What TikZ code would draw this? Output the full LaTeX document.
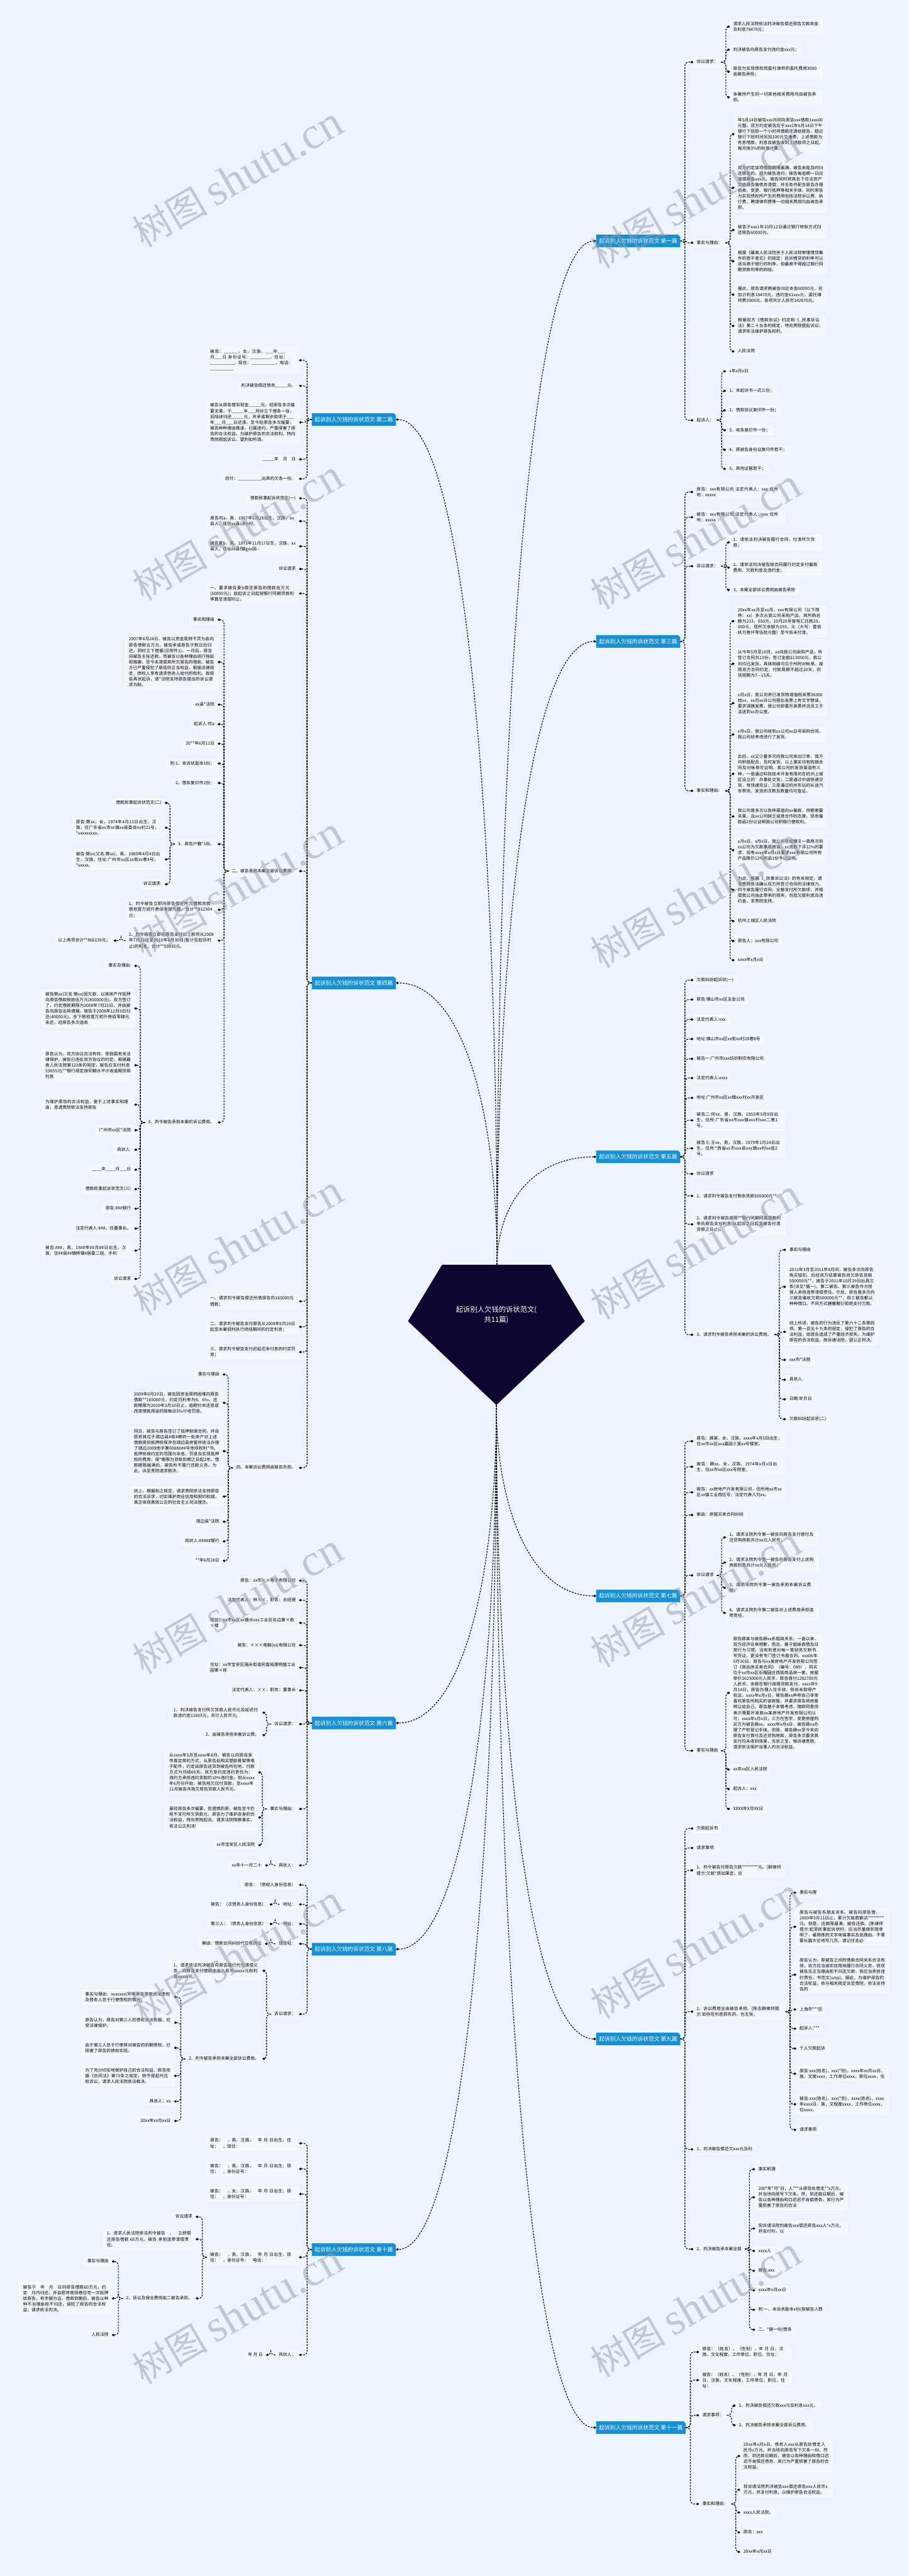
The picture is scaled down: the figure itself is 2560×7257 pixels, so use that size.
\documentclass[tikz,border=0pt]{standalone}
\usepackage{fontspec}
\setmainfont{Noto Sans CJK SC}
\newfontfamily\wmlat{Liberation Serif}
\XeTeXlinebreaklocale "zh"
\XeTeXlinebreakskip=0pt plus 0.3pt
\usetikzlibrary{arrows.meta}
\pgfdeclarelayer{bg}
\pgfsetlayers{bg,main}
\definecolor{bgc}{RGB}{237,244,254}
\definecolor{boxc}{RGB}{242,247,255}
\definecolor{lblc}{RGB}{24,144,213}
\definecolor{navyc}{RGB}{11,5,48}
\definecolor{wmc}{RGB}{150,156,170}
\newcommand{\fs}{\fontsize{3.41pt}{4.57pt}\selectfont}
\newcommand{\fl}{\fontsize{4.4pt}{5.2pt}\selectfont}
\newcommand{\fc}{\fontsize{5.7pt}{8pt}\selectfont}
\newcommand{\toR}[2]{\foreach \c in {#2}{\draw[conn] (#1.east) -- ++(13,0) |- (\c.west);}}
\newcommand{\toL}[2]{\foreach \c in {#2}{\draw[conn] (#1.west) -- ++(-13,0) |- (\c.east);}}
\tikzset{
  conn/.style={line width=0.55pt, dash pattern=on 1.4pt off 0.9pt, rounded corners=3pt, -{Diamond[length=2.4pt,width=2.0pt]}},
  chamf/.style={append after command={\pgfextra{\begin{pgfonlayer}{bg}
      \filldraw[#1] (\tikzlastnode.south west) -- (\tikzlastnode.north west) -- ([xshift=-1.7pt]\tikzlastnode.north east) -- ([yshift=-1.7pt]\tikzlastnode.north east) -- (\tikzlastnode.south east) -- cycle;
      \end{pgfonlayer}}}},
  bx/.style={chamf={fill=boxc,draw=white,line width=0.35pt}, font=\fs, inner xsep=2.4pt, inner ysep=1.3pt},
  ts/.style={bx, text height=2.75pt, text depth=0.75pt},
  tb/.style={bx, text width=68.5pt, align=left},
  lbl/.style={chamf={fill=lblc,draw=none}, text=white, font=\fl, inner xsep=2.2pt, inner ysep=0pt, minimum height=0.34cm},
  aw/.style={anchor=west},
  ae/.style={anchor=east},
  wm/.style={rotate=30, text=wmc, opacity=0.5, inner sep=0pt}
}
\begin{document}
\begin{tikzpicture}[x=0.01cm,y=-0.01cm]
\useasboundingbox (0,0) rectangle (2560,7257);
\begin{pgfonlayer}{bg}
\fill[bgc] (0,0) rectangle (2560,7257);
\end{pgfonlayer}

% ---------- centre ----------
\fill[navyc] (1245,3563) -- (1551,3563) -- (1647,3722) -- (1398,3958) -- (1149,3722) -- cycle;
\node[text=white,font=\fc,align=center] (CEN) at (1398,3704) {起诉别人欠钱的诉状范文(\\共11篇)};
\coordinate (ctop) at (1400,3563);
\coordinate (cbot) at (1398,3958);

% ---------- branch labels ----------
\node[lbl,aw] (R1) at (1679,679) {起诉别人欠钱的诉状范文 第一篇};
\node[lbl,aw] (R3) at (1679,1807) {起诉别人欠钱的诉状范文 第三篇};
\node[lbl,aw] (R5) at (1679,3259) {起诉别人欠钱的诉状范文 第五篇};
\node[lbl,aw] (R7) at (1679,4496) {起诉别人欠钱的诉状范文 第七篇};
\node[lbl,aw] (R9) at (1679,5744) {起诉别人欠钱的诉状范文 第九篇};
\node[lbl,aw] (R11) at (1679,6839) {起诉别人欠钱的诉状范文 第十一篇};
\node[lbl,ae] (L2) at (1115,1182) {起诉别人欠钱的诉状范文 第二篇};
\node[lbl,ae] (L4) at (1115,2769) {起诉别人欠钱的诉状范文 第四篇};
\node[lbl,ae] (L6) at (1115,4854) {起诉别人欠钱的诉状范文 第六篇};
\node[lbl,ae] (L8) at (1115,5491) {起诉别人欠钱的诉状范文 第八篇};
\node[lbl,ae] (L10) at (1115,6337) {起诉别人欠钱的诉状范文 第十篇};

\draw[conn] (ctop) .. controls (1400,1977) and (1498,679) .. (R1.west);
\draw[conn] (ctop) .. controls (1400,2597) and (1498,1807) .. (R3.west);
\draw[conn] (ctop) .. controls (1400,3396) and (1498,3259) .. (R5.west);
\draw[conn] (cbot) .. controls (1398,4254) and (1498,4496) .. (R7.west);
\draw[conn] (cbot) .. controls (1398,4940) and (1498,5744) .. (R9.west);
\draw[conn] (cbot) .. controls (1398,5527) and (1498,6839) .. (R11.west);
\draw[conn] (ctop) .. controls (1400,2253) and (1300,1182) .. (L2.east);
\draw[conn] (ctop) .. controls (1400,3125) and (1300,2769) .. (L4.east);
\draw[conn] (cbot) .. controls (1398,4451) and (1300,4854) .. (L6.east);
\draw[conn] (cbot) .. controls (1398,4801) and (1300,5491) .. (L8.east);
\draw[conn] (cbot) .. controls (1398,5266) and (1300,6337) .. (L10.east);

% ========== 第一篇 ==========
\node[ts,aw] (r1a) at (1953,175) {诉讼请求：};
\node[tb,aw] (r1a1) at (2056,75) {请求人民法院依法判决被告偿还原告欠款本金及利息78470元；};
\node[ts,aw] (r1a2) at (2056,140) {判决被告向原告支付违约金xxx元；};
\node[tb,aw] (r1a3) at (2056,202) {原告为实现债权而委托律师的委托费用3000由被告承担；};
\node[tb,aw] (r1a4) at (2056,274) {本案所产生的一切其他相关费用均由被告承担。};
\node[ts,aw] (r1b) at (1953,684) {事实与理由：};
\node[tb,aw] (r1b1) at (2069,378) {年5月14日被告xxx共同向原告xxx借款1xxx00元整。双方约定被告应于xxx1年6月14日下午银行下班前一个小时将借款还清给原告，超过银行下班时间另加100元交通费；上述借款为有息借款，利息自被告收到上述款项之日起，每月按3\%的标准计算。};
\node[tb,aw] (r1b2) at (2069,529) {双方约定该项借款期限届满，被告未能及时归还原告的，视为被告违约，被告每逾期一日应赔偿原告xxx元。被告同时将其名下合法资产交给原告做债务清偿，并无条件配合原告办理拍卖、变更、银行抵押等相关手续。同时原告为实现债权所产生的费用包括法院诉讼费、执行费、聘请律师费等一切相关费用均由被告承担。};
\node[tb,aw] (r1b3) at (2069,648) {被告于xxx1年10月12日通过银行转账方式归还原告60000元。};
\node[tb,aw] (r1b4) at (2069,736) {根据《最高人民法院关于人民法院审理借贷案件的若干意见》的规定：民间借贷的利率可以适当高于银行的利率，但最高不得超过银行同期贷款利率的四倍。};
\node[tb,aw] (r1b5) at (2069,830) {据此，原告请求两被告归还本金60000元，另加计利息18470元，违约金61xxx元，委托律师费3000元。各项共计人民币142670元。};
\node[tb,aw] (r1b6) at (2069,918) {根据双方《借款协议》约定和《\_民事诉讼法》第二十五条的规定，特向贵院提起诉讼，请求依法维护原告权利。};
\node[ts,aw] (r1b7) at (2069,990) {人民法院};
\node[ts,aw] (r1c) at (1953,1184) {起诉人：};
\node[ts,aw] (r1c1) at (2045,1046) {x年x月x日};
\node[ts,aw] (r1c2) at (2045,1101) {1、本起诉书一式三份；};
\node[ts,aw] (r1c3) at (2045,1156) {2、借款协议复印件一份；};
\node[ts,aw] (r1c4) at (2045,1212) {3、收条复印件一份；};
\node[ts,aw] (r1c5) at (2045,1267) {4、原被告身份证复印件若干；};
\node[ts,aw] (r1c6) at (2045,1321) {5、其他证据若干；};
\toR{R1}{r1a,r1b,r1c}
\toR{r1a}{r1a1,r1a2,r1a3,r1a4}
\toR{r1b}{r1b1,r1b2,r1b3,r1b4,r1b5,r1b6,r1b7}
\toR{r1c}{r1c1,r1c2,r1c3,r1c4,r1c5,r1c6}

% ========== 第三篇 ==========
\node[tb,aw] (r3a) at (1953,1386) {原告：xxx有限公司 法定代表人：xxx 住所地：xxxxx};
\node[tb,aw] (r3b) at (1953,1457) {被告：xxx有限公司 法定代表人：xxx 住所地：xxxxx};
\node[ts,aw] (r3c) at (1953,1595) {诉讼请求：};
\node[tb,aw] (r3c1) at (2056,1528) {1、请依法判决被告履行合同，付清所欠货款；};
\node[tb,aw] (r3c2) at (2056,1599) {2、请依法判决被告按合同履行约定支付催款费用、欠款利息及违约金；};
\node[ts,aw] (r3c3) at (2056,1662) {3、本案全部诉讼费用由被告承担};
\node[ts,aw] (r3d) at (1953,2228) {事实和理由：};
\node[tb,aw] (r3d1) at (2069,1750) {20xx年xx月至xx月，xxx有限公司（以下简称：xx）多次从我公司采购产品，其所购总额为213，050元，10月20号曾电汇还款20，000元，现所欠余额为193，元（大写：壹拾玖万叁仟零伍拾元整）至今尚未付清。};
\node[tb,aw] (r3d2) at (2069,1870) {从今年5月至10月，xx向我公司采购产品，所签订合同共13份，签订金额213050元，我公司均已发货，具体明细可见于所附对帐单。按照双方合同约定，付款周期不超过20天，供货周期为7—15天。};
\node[tb,aw] (r3d3) at (2069,1981) {x月x日，我公司将已发货物增值税发票38300给xx，xx月xx日公司提出发票上有文字错误，要求调换发票，我公司即重开发票并派员工于洁送到xx办公室。};
\node[tb,aw] (r3d4) at (2069,2069) {x月x日，我公司收到xx公司xx日号采购合同，我公司经考虑进行了发货。};
\node[tb,aw] (r3d5) at (2069,2180) {此后，xx又少量多次向我公司发出订单，我方均积极配合，及时发货。以上事实均有购销合同及对帐单可证明。我公司的发货渠道有三种，一是通过科技技术开发有限司在杭州上城区设立的'办事处交货；二是通过中诚快递交货，有快递凭证；三是通过杭州东站的长途汽车带货。发货的次数及数量均可查证。};
\node[tb,aw] (r3d6) at (2069,2300) {我公司曾多次以各种渠道向xx催款，但都索要未果，且xx公司缺乏诚意合作的态度。现有催款函2份以证明我公司积极行使权利。};
\node[tb,aw] (r3d7) at (2069,2395) {x月x日，x月x日，我公司总经理王一真两次到xx公司为欠款事项商谈，xx货款下浮12\%的要求，现有xxxx年x月x日要求xxx有限公司所有产品降价12\%的函1份予以证明。};
\node[tb,aw] (r3d8) at (2069,2507) {为此，根据《\_民事诉讼法》的有关规定，请求贵院依法确认双方所签订合同的法律效力，判令被告履行合同，全额支付所欠款项，并赔偿我公司由此带来的损失，包括欠款利息及违约金。求贵院支持。};
\node[ts,aw] (r3d9) at (2069,2595) {杭州上城区人民法院};
\node[ts,aw] (r3d10) at (2069,2651) {原告人：xxx有限公司};
\node[ts,aw] (r3d11) at (2069,2705) {xxxx年x月x日};
\toR{R3}{r3a,r3b,r3c,r3d}
\toR{r3c}{r3c1,r3c2,r3c3}
\toR{r3d}{r3d1,r3d2,r3d3,r3d4,r3d5,r3d6,r3d7,r3d8,r3d9,r3d10,r3d11}

% ========== 第五篇 ==========
\node[ts,aw] (r5a) at (1953,2761) {欠款纠纷起诉状(一)};
\node[ts,aw] (r5b) at (1953,2816) {原告:佛山市xx区五金公司};
\node[ts,aw] (r5c) at (1953,2872) {法定代表人:xxx};
\node[ts,aw] (r5d) at (1953,2927) {地址:佛山市xx区xx街xx村28巷8号};
\node[ts,aw] (r5e) at (1953,2983) {被告一:广州市xxx纺织制衣有限公司};
\node[ts,aw] (r5f) at (1953,3037) {法定代表人:xxxx};
\node[ts,aw] (r5g) at (1953,3093) {地址:广州市xx区xx镇xxx村xx开发区};
\node[tb,aw] (r5h) at (1953,3156) {被告二:何xx，男，汉族，1955年5月8日出生，住所:广东省xx市xxx镇xxx村xxx二巷1号。};
\node[tb,aw] (r5i) at (1953,3235) {被告三:王xx，男，汉族，1979年1月24日出生，住所:*西省xx市xxx县xxx镇xx村xx组2号。};
\node[ts,aw] (r5j) at (1953,3307) {诉讼请求};
\node[tb,aw] (r5k) at (1953,3369) {1、请求判令被告支付剩余货款500000元**。};
\node[tb,aw] (r5l) at (1953,3449) {2、请求判令被告按照**银行同期同类贷款利率向原告支付利息(从起诉之日起至被告付清货款之日止)。};
\node[ts,aw] (r5m) at (1953,3760) {3、请求判令被告承担本案的诉讼费用。};
\node[ts,aw] (r5m1) at (2214,3521) {事实与理由};
\node[tb,aw] (r5m2) at (2214,3625) {2011年3月至2011年8月间，被告多次向原告购买钮扣，后经双方结算被告尚欠原告货款500000元**。被告于2011年10月19日出具欠条(详见*据一)，第二被告、第三被告作为担保人承担连带清偿责任。尔后，原告曾多次向三被告催收欠款500000元**，但三被告都以种种借口、不同方式搪塞敷衍拒绝支付欠款。};
\node[tb,aw] (r5m3) at (2214,3752) {综上所述，被告的行为违反了第六十二条第四项、第一百五十九条的规定，侵犯了原告的合法利益，给原告造成了严重经济损失。为维护原告的合法权益，故诉诸法院，望公正判决。};
\node[ts,aw] (r5m4) at (2214,3831) {xxx市*法院};
\node[ts,aw] (r5m5) at (2214,3887) {具状人:};
\node[ts,aw] (r5m6) at (2214,3942) {日期:年月日};
\node[ts,aw] (r5m7) at (2214,3998) {欠款纠纷起诉状(二)};
\toR{R5}{r5a,r5b,r5c,r5d,r5e,r5f,r5g,r5h,r5i,r5j,r5k,r5l,r5m}
\toR{r5m}{r5m1,r5m2,r5m3,r5m4,r5m5,r5m6,r5m7}

% ========== 第七篇 ==========
\node[tb,aw] (r7a) at (1953,4060) {原告：薛某，女，汉族，xxxx年x月5日出生，住xx市xx区xxx嘉园三里xx号楼室。};
\node[tb,aw] (r7b) at (1953,4132) {被告：薛xx，女，汉族，1974年x月x日出生，住xx市xx区xxx号院室。};
\node[tb,aw] (r7c) at (1953,4204) {被告：xx房地产开发有限公司，住所地xx市xx区xx镇工业西区号，法定代表人刘xx。};
\node[ts,aw] (r7d) at (1953,4268) {案由：房屋买卖合同纠纷};
\node[ts,aw] (r7e) at (1953,4438) {诉讼请求};
\node[tb,aw] (r7e1) at (2045,4331) {1、请求法院判令第一被告向原告支付首付及还贷购房款共计xx元人民币；};
\node[tb,aw] (r7e2) at (2045,4402) {2、请求法院判令第一被告向原告支付上述购房款利息共计xx元人民币；};
\node[tb,aw] (r7e3) at (2045,4473) {3、请求法院判令第一被告承担本案诉讼费用；};
\node[tb,aw] (r7e4) at (2045,4544) {4、请求法院判令第二被告对上述费用承担连带责任。};
\node[ts,aw] (r7f) at (1953,4932) {事实与理由};
\node[tb,aw] (r7f1) at (2056,4769) {原告薛某与被告薛xx系姐妹关系，一直以来，双方经济往来频繁，而且，基于姐妹真情及日常行为习惯，没有刻意对每一笔财务交割书写凭证，更没有专门签订书面合同。xxx06年5月30日，原告与xx某房地产开发有限公司签订《商品房买卖合同》（编号：089），购买位于xx市xx区石榴园庄西街商品房一套，房屋单价1623000元人民币，原告首付1282700元人民币，余款在银行按揭贷款支付。xxxx年9月14日，原告办理入住手续，但尚未取得产权证。xxxx年x月x日，被告薛xx声称自己非常喜欢原告所购买的该房屋，并要求原告将房屋转让给自己。原告基于亲情考虑，随即同意但表示需要开发商xx某房地产开发有限公司认可，xxxx年x月x日，三方在签字，变更房屋购买方为被告薛xx。xxxx年x月x日，被告薛xx办理了产权登记手续。但是，被告薛xx至今未向原告支付首付及还贷购房款，原告多次要求其支付均未收到效果，无奈之至，惟诉诸贵院，请求依法保护当事人的合法权益。};
\node[ts,aw] (r7f2) at (2056,4985) {xx市xx区人民法院};
\node[ts,aw] (r7f3) at (2056,5040) {起诉人：xxx};
\node[ts,aw] (r7f4) at (2056,5096) {XXXX年X月XX日};
\toR{R7}{r7a,r7b,r7c,r7d,r7e,r7f}
\toR{r7e}{r7e1,r7e2,r7e3,r7e4}
\toR{r7f}{r7f1,r7f2,r7f3,r7f4}

% ========== 第九篇 ==========
\node[ts,aw] (r9a) at (1953,5151) {欠款起诉书};
\node[ts,aw] (r9b) at (1953,5206) {请求事项:};
\node[tb,aw] (r9c) at (1953,5269) {1、判令被告付原告欠款********元。[群律师提示:欠款*质如果定，应};
\node[tb,aw] (r9d) at (1953,5667) {2、诉讼费用全由被告承担。[陈志群律师提示:如存在利息损失的，也主张，};
\node[ts,aw] (r9d1) at (2243,5332) {事实与理};
\node[tb,aw] (r9d2) at (2243,5428) {原告与被告系朋友关系。被告向原告借，2009年9月11日止，累计欠款数额达********元。但是，还款限届满，被告还款。[陈律师提示:起草民事起诉状时，应当尽量做到简单明了，最简练的文字来描事实及说理由，不需要长篇大论地写几页。请记住言必};
\node[tb,aw] (r9d3) at (2243,5563) {原告认为，原被告之间的借款合同关系合法有效，双方应当诚实信用地履行合同义务，但现被告无正当理由拒不归还欠款，依应当承担违约责任，书范文(unjs)。据此，为维护原告的合法权益，依与相关规定诉至贵院，依法支持告的};
\node[ts,aw] (r9d4) at (2243,5661) {上海市***区};
\node[ts,aw] (r9d5) at (2243,5715) {起诉人:***};
\node[ts,aw] (r9d6) at (2243,5771) {个人欠款起诉};
\node[tb,aw] (r9d7) at (2243,5842) {原告:xxx(姓名)，xxx(*别)，xxxx年xx月xx日，族，文度xxxx，工作单位xxxx，职位xxxx，住};
\node[tb,aw] (r9d8) at (2243,5928) {被告:xxx(姓名)，xxx(*别)，xxxx(姓名)，xxxx年xxxx日，族，文程度xxxx，工作单位xxxx，位xxxx，};
\node[ts,aw] (r9d9) at (2243,6000) {请求事项:};
\node[ts,aw] (r9e) at (1953,6055) {1、判决被告偿还欠xxx元及利};
\node[ts,aw] (r9f) at (1953,6336) {2、判决被告承本案全部};
\node[ts,aw] (r9f1) at (2127,6111) {事实和理};
\node[tb,aw] (r9f2) at (2127,6190) {200*年*月*日，人***从原告处借走**x万元，并当场向原写下欠条。然，到还款日期后，被告以各种理由和口迟迟不肯偿债务，其行为严重损害了原告的合法};
\node[tb,aw] (r9f3) at (2127,6278) {现诉请法院判被告xxx偿还原告xxx人*x万元，并支付利，以};
\node[ts,aw] (r9f4) at (2127,6341) {xxxx人};
\node[ts,aw] (r9f5) at (2127,6397) {原告:xxx};
\node[ts,aw] (r9f6) at (2127,6452) {xxxx年x月xx日};
\node[ts,aw] (r9f7) at (2127,6507) {附:一、本诉状副本x份(按被告人数};
\node[ts,aw] (r9f8) at (2127,6563) {二、*据一份(借条};
\toR{R9}{r9a,r9b,r9c,r9d,r9e,r9f}
\toR{r9d}{r9d1,r9d2,r9d3,r9d4,r9d5,r9d6,r9d7,r9d8,r9d9}
\toR{r9f}{r9f1,r9f2,r9f3,r9f4,r9f5,r9f6,r9f7,r9f8}

% ========== 第十一篇 ==========
\node[tb,aw] (r11a) at (1969,6626) {原告：（姓名），（性别），年 月 日，汉族，文化程度，工作单位，职位，住址：};
\node[tb,aw] (r11b) at (1969,6705) {被告：（姓名），（性别），年 月 日，年 月 日，汉族，文化程度，工作单位，职位，住址：};
\node[ts,aw] (r11c) at (1969,6804) {请求事项：};
\node[ts,aw] (r11c1) at (2072,6777) {1、判决被告偿还欠款xxx元及利息xxx元。};
\node[ts,aw] (r11c2) at (2072,6832) {2、判决被告承担本案全部诉讼费用。};
\node[ts,aw] (r11d) at (1969,7054) {事实和理由：};
\node[tb,aw] (r11d1) at (2085,6919) {20xx年x月x日，债务人xxx从原告处借走人民币x万元，并当场向原告写下欠条一份。然而，到还款日期后，被告以各种理由和借口迟迟不肯偿还债务，其行为严重损害了原告的合法权益。};
\node[tb,aw] (r11d2) at (2085,7014) {现诉请法院判决被告xxx偿还原告xxx人民币x万元，并支付利息，以维护原告合法权益。};
\node[ts,aw] (r11d3) at (2085,7078) {xxxx人民法院。};
\node[ts,aw] (r11d4) at (2085,7134) {原告：xxx};
\node[ts,aw] (r11d5) at (2085,7189) {20xx年x月xx日};
\toR{R11}{r11a,r11b,r11c,r11d}
\toR{r11c}{r11c1,r11c2}
\toR{r11d}{r11d1,r11d2,r11d3,r11d4,r11d5}

% ========== 第二篇 ==========
\node[tb,ae] (l2a) at (842,1015) {被告：\_\_\_\_\_\_，女，汉族，\_\_\_年\_\_\_月\_\_\_日 身份证号：\_\_\_\_\_\_\_\_，住址：\_\_\_\_\_\_\_\_\_\_，现住：\_\_\_\_\_\_\_\_\_\_，电话：\_\_\_\_\_\_\_\_\_\_};
\node[ts,ae] (l2b) at (842,1087) {判决被告偿还债务\_\_\_\_\_元。};
\node[tb,ae] (l2c) at (842,1190) {被告从原告借到现金\_\_\_\_\_元，经原告多次催要无果，于\_\_\_\_\_年\_\_\_月份立下借条一张，后陆续归还\_\_\_\_\_元，并承诺剩余款项于\_\_\_年\_\_\_月\_\_\_日还清，至今经原告多次催要，被告种种理由推诿，已属违约，严重侵害了原告的合法权益。为维护原告的合法权利，特向贵院提起诉讼，望判如所请。};
\node[ts,ae] (l2d) at (842,1294) {\_\_\_\_\_年　月　日};
\node[ts,ae] (l2e) at (842,1349) {后付：\_\_\_\_\_\_\_\_\_\_出具的欠条一份。};
\toL{L2}{l2a,l2b,l2c,l2d,l2e}

% ========== 第四篇 ==========
\node[ts,ae] (l4a) at (842,1404) {借款民事起诉状范文(一)};
\node[tb,ae] (l4b) at (842,1468) {原告何a，男，1967年5月28日生，汉族，xx县人，现住xx县s乡h村。};
\node[tb,ae] (l4c) at (842,1539) {被告夏b，男，1973年11月17日生，汉族，xx县人，住址xx县f镇gxx园-{}-};
\node[ts,ae] (l4d) at (842,1603) {诉讼请求};
\node[tb,ae] (l4e) at (842,1672) {一、要求被告夏b偿还原告的借款伍万元(50000元)；自起诉之日起按银行同期贷款利率算至清偿时止。};
\node[ts,ae] (l4f) at (842,2454) {二、被告承担本案全部诉讼费用。};
\node[ts,ae] (l4f1) at (613,1746) {事实和理由};
\node[tb,ae] (l4f2) at (613,1865) {2007年4月24日，被告以资金周转不灵为由向原告借款五万元，被告承诺原告于数日后归还，同时立下借据(见附件1)。一月后，原告向被告主张还款，而被告以各种理由进行拖延和推搪，至今未清偿其所欠原告的借款。被告方已严重侵犯了原告的正当权益，根据法律规定，债权人享有请求债务人给付的权利。故原告具状起诉，请*法院支持原告提出的诉讼请求为盼。};
\node[ts,ae] (l4f3) at (613,1985) {xx县*法院};
\node[ts,ae] (l4f4) at (613,2040) {起诉人:何a};
\node[ts,ae] (l4f5) at (613,2095) {20**年6月11日};
\node[ts,ae] (l4f6) at (613,2151) {附:1、本诉状副本1份；};
\node[ts,ae] (l4f7) at (613,2206) {2、借条复印件2份；};
\node[ts,ae] (l4f8) at (613,2378) {3、原告户籍*1份。};
\node[ts,ae] (l4f8a) at (464,2262) {借款民事起诉状范文(二)};
\node[tb,ae] (l4f8b) at (464,2332) {原告:樊xx，女，1974年4月11日出生，汉族，住广东省xx市xx镇xx居委会xx村21号，*xxxxxxxxx。};
\node[tb,ae] (l4f8c) at (464,2421) {被告:樊xx(又名:樊xx)，男，1960年4月4日出生，汉族，住址:广州市xx区xx街xx巷4号，*xxxxx。};
\node[ts,ae] (l4f8d) at (464,2491) {诉讼请求:};
\node[tb,ae] (l4f9) at (613,2563) {1、判令被告立即向原告偿还所欠借款余款捌拾壹万贰仟叁佰零肆元整，合计**812304元；};
\node[tb,ae] (l4f10) at (613,2650) {2、判令被告立即向原告支付以上款项从2008年7月21日至2010年6月30日(暂计至起诉时止)的利息，合计**53835元。};
\node[ts,ae] (l4f10a) at (320,2650) {以上两项合计**866139元；};
\node[ts,ae] (l4f11) at (613,3162) {3、判令被告承担本案的诉讼费用。};
\node[ts,ae] (l4f11a) at (378,2721) {事实及理由:};
\node[tb,ae] (l4f11b) at (378,2841) {被告樊xx(又名:樊xx)因欠款，以其房产作抵押向原告借款捌拾伍万元(850000元)。双方签订了，约定借款期限为2008年7月21日，并由被告向原告出具借据。被告于2008年12月9日归还(40000元)，余下捌拾壹万贰仟叁佰零肆元未还，经原告多次追收};
\node[tb,ae] (l4f11c) at (378,3001) {原告认为，双方协议合法有效，受我国有关法律保护。被告已违反双方协议的约定，根据最高人民法院第123条的规定，被告应支付利息53835元(**银行规定按同期水平计收逾期贷款利息};
\node[tb,ae] (l4f11d) at (378,3112) {为维护原告的合法权益，鉴于上述事实和理由，恳请贵院依法支持原告};
\node[ts,ae] (l4f11e) at (378,3184) {广州市xx区*法院};
\node[ts,ae] (l4f11f) at (378,3239) {具状人:};
\node[ts,ae] (l4f11g) at (378,3295) {\_\_\_\_年\_\_\_\_月\_\_\_日};
\node[ts,ae] (l4f11h) at (378,3350) {借款民事起诉状范文(三)};
\node[ts,ae] (l4f11i) at (378,3405) {原告:\#\#\#银行};
\node[ts,ae] (l4f11j) at (378,3461) {法定代表人:\#\#\#，任董事长。};
\node[tb,ae] (l4f11k) at (378,3523) {被告:\#\#\#，男，19\#\#年\#\#月\#\#日出生，汉族，住\#\#县\#\#镇畔镇\#居委二组，手机};
\node[ts,ae] (l4f11l) at (378,3603) {诉讼请求};
\node[tb,ae] (l4g) at (842,3666) {一、请求判令被告偿还所借原告的165000元借款；};
\node[tb,ae] (l4h) at (842,3738) {二、请求判令被告支付原告从2009年6月29日起至本案调判执行终结期间的约定利息；};
\node[tb,ae] (l4i) at (842,3809) {三、请求判令被告支付迟延还本付息的约定罚息；};
\node[ts,ae] (l4j) at (842,4135) {四、本案诉讼费用由被告负担。};
\node[ts,ae] (l4j1) at (627,3872) {事实与理由};
\node[tb,ae] (l4j2) at (627,3952) {2009年6月29日，被告因资金周转困难向原告借款**165000元，约定月利率为9。6‰，还款期限为2010年3月10日止，逾期付本还息或改变借款用途的按每日5‰计收罚息。};
\node[tb,ae] (l4j3) at (627,4088) {同日，被告与原告签订了抵押担保合同，并自愿将其位于靖边县\#街\#巷的一处房产对上述借款提供抵押担保并在靖边县房管所依法办理了靖边2009他字第00888\#\#号他项权利*书。抵押担保约定的范围为本息、罚息及实现抵押权的费用，保*期限为贷款到期之日起2年。借款期限届满后，被告所不履行还款义务。为此，诉至贵院请求救济。};
\node[tb,ae] (l4j4) at (627,4216) {综上，根据和之规定，请求贵院依法支持原告的合法诉求，切实维护商业信用和契约权威，真正体现高效公正的社会主义司法理念。};
\node[ts,ae] (l4j5) at (627,4287) {靖边县*法院};
\node[ts,ae] (l4j6) at (627,4342) {具状人:\#\#\#\#\#银行};
\node[ts,ae] (l4j7) at (627,4397) {**年6月28日};
\toL{L4}{l4a,l4b,l4c,l4d,l4e,l4f,l4g,l4h,l4i,l4j}
\toL{l4f}{l4f1,l4f2,l4f3,l4f4,l4f5,l4f6,l4f7,l4f8,l4f9,l4f10,l4f11}
\toL{l4f8}{l4f8a,l4f8b,l4f8c,l4f8d}
\toL{l4f10}{l4f10a}
\toL{l4f11}{l4f11a,l4f11b,l4f11c,l4f11d,l4f11e,l4f11f,l4f11g,l4f11h,l4f11i,l4f11j,l4f11k,l4f11l}
\toL{l4j}{l4j1,l4j2,l4j3,l4j4,l4j5,l4j6,l4j7}

% ========== 第六篇 ==========
\node[ts,ae] (l6a) at (842,4453) {原告：xx市××电子有限公司};
\node[ts,ae] (l6b) at (842,4508) {法定代表人：林××，职务：总经理};
\node[tb,ae] (l6c) at (842,4572) {现住：xx市xx区xx镇水xxx工业区右边第×栋×楼};
\node[ts,ae] (l6d) at (842,4635) {被告：×××电脑(xx)有限公司};
\node[tb,ae] (l6e) at (842,4698) {住址：xx市宝安区福永街道同富裕惠明盛工业园第×栋};
\node[ts,ae] (l6f) at (842,4762) {法定代表人：××，职务：董事长};
\node[ts,ae] (l6g) at (842,4857) {诉讼请求：};
\node[tb,ae] (l6g1) at (739,4825) {1、判决被告支付所欠货款人民币元及延迟付款违约金11603元，共计人民币元;};
\node[ts,ae] (l6g2) at (739,4888) {2、由被告承担本案诉讼费。};
\node[ts,ae] (l6h) at (842,5096) {事实与理由：};
\node[tb,ae] (l6h1) at (727,4993) {从xxxx年3月至xxxx年8月，被告以向原告发传真定单的方式，从原告处购买塑胶骨架等电子配件，约定由原告送货到被告所在地，付款方式为月结60天，双方变约定违约责任为：违约方承担违约货款的10\%违约金。但从xxxx年6月份开始，被告拖欠应付货款，至xxxx年11月被告共拖欠原告货款人民币元。};
\node[tb,ae] (l6h2) at (727,5120) {虽经原告多次催要，但遗憾的是，被告至今仍拒不支付所欠货款元，原告为了维护自身的合法权益，特向贵院起诉，请求法院明察事实，依法公正判决!};
\node[ts,ae] (l6h3) at (727,5198) {xx市宝安区人民法院};
\node[ts,ae] (l6i) at (842,5255) {具状人：};
\node[ts,ae] (l6i1) at (746,5255) {xx年十一月二十};
\toL{L6}{l6a,l6b,l6c,l6d,l6e,l6f,l6g,l6h,l6i}
\toL{l6g}{l6g1,l6g2}
\toL{l6h}{l6h1,l6h2,l6h3}
\toL{l6i}{l6i1}

% ========== 第八篇 ==========
\node[ts,ae] (l8a) at (842,5310) {原告：（债权人身份信息）};
\node[ts,ae] (l8b) at (842,5365) {地址：};
\node[ts,ae] (l8b1) at (759,5365) {被告：（次债务人身份信息）};
\node[ts,ae] (l8c) at (842,5420) {地址：};
\node[ts,ae] (l8c1) at (759,5420) {第三人：（债务人身份信息）};
\node[ts,ae] (l8d) at (842,5476) {现住址：};
\node[ts,ae] (l8d1) at (746,5476) {案由：借款合同纠纷代位权诉讼};
\node[ts,ae] (l8e) at (842,5674) {诉讼请求：};
\node[tb,ae] (l8e1) at (739,5552) {1、请求依法判决被告向原告履行代位清偿义务，向原告支付借款本金人民币xxxxx元和利息xxxxx元。};
\node[ts,ae] (l8e2) at (739,5800) {2、判令被告承担本案全部诉讼费用。};
\node[tb,ae] (l8e2a) at (490,5626) {事实与理由：xxxxxxx(写明原告享有合法债权及债务人怠于行使债权的情况)};
\node[tb,ae] (l8e2b) at (490,5698) {原告认为，原告对第三人的债权合法有据，应受法律保护。};
\node[tb,ae] (l8e2c) at (490,5769) {由于第三人怠于行使其对被告的到期债权，已损害了原告的债权实现。};
\node[tb,ae] (l8e2d) at (490,5848) {为了充分切实地保护自己的合法权益，原告依据《合同法》第73条之规定，特予提起代位权诉讼，请求人民法院依法裁决。};
\node[ts,ae] (l8e2e) at (490,5920) {具状人：xx};
\node[ts,ae] (l8e2f) at (490,5975) {20xx年xx月xx日};
\toL{L8}{l8a,l8b,l8c,l8d,l8e}
\toL{l8b}{l8b1}
\toL{l8c}{l8c1}
\toL{l8d}{l8d1}
\toL{l8e}{l8e1,l8e2}
\toL{l8e2}{l8e2a,l8e2b,l8e2c,l8e2d,l8e2e,l8e2f}

% ========== 第十篇 ==========
\node[tb,ae] (l10a) at (842,6038) {原告：　，男，汉族，　年 月 日出生，住址：　，现住：};
\node[tb,ae] (l10b) at (842,6110) {被告：　，男，汉族，　年 月 日出生，现住：　，身份证号：};
\node[tb,ae] (l10c) at (842,6181) {被告：　，女，汉族，　年 月 日出生，现住：　，身份证号：};
\node[tb,ae] (l10d) at (842,6359) {被告：　，男，汉族，　年 月 日出生，现住：　，身份证号：　电话：};
\node[ts,ae] (l10d1) at (551,6245) {诉讼请求};
\node[tb,ae] (l10d2) at (551,6308) {1、请求人民法院依法判令被告　、　立即偿还原告借款 60万元，被告 承担连带清偿责任。};
\node[ts,ae] (l10d3) at (551,6475) {2、诉讼及保全费用由二被告承担。};
\node[ts,ae] (l10d3a) at (315,6371) {事实与理由};
\node[tb,ae] (l10d3b) at (315,6475) {被告于　年　月　日向原告借款60万元，约定　月内归还，并自愿将商场巷住宅一次抵押给原告，有字据为证。借款到期后，被告以种种不当理由拒不归还，侵犯了原告的合法权益，请求依法判决。};
\node[ts,ae] (l10d3c) at (315,6578) {人民法院};
\node[ts,ae] (l10e) at (842,6634) {具状人：};
\node[ts,ae] (l10e1) at (749,6634) {年 月 日};
\toL{L10}{l10a,l10b,l10c,l10d,l10e}
\toL{l10d}{l10d1,l10d2,l10d3}
\toL{l10d3}{l10d3a,l10d3b,l10d3c}
\toL{l10e}{l10e1}

% ---------- watermarks ----------
\foreach \y [count=\i] in {500,1495,2500,3510,4520,5510,6520}{
  \node[wm] (wml\i) at (670,\y) {\fontsize{30pt}{30pt}\selectfont 树图\hspace{6pt}{\wmlat\fontsize{36pt}{36pt}\selectfont shutu.cn}};
}
\foreach \y [count=\i] in {560,1520,2530,3520,4500,5490,6500}{
  \node[wm] (wmr\i) at (1960,\y) {\fontsize{30pt}{30pt}\selectfont 树图\hspace{6pt}{\wmlat\fontsize{36pt}{36pt}\selectfont shutu.cn}};
}
\end{tikzpicture}
\end{document}
